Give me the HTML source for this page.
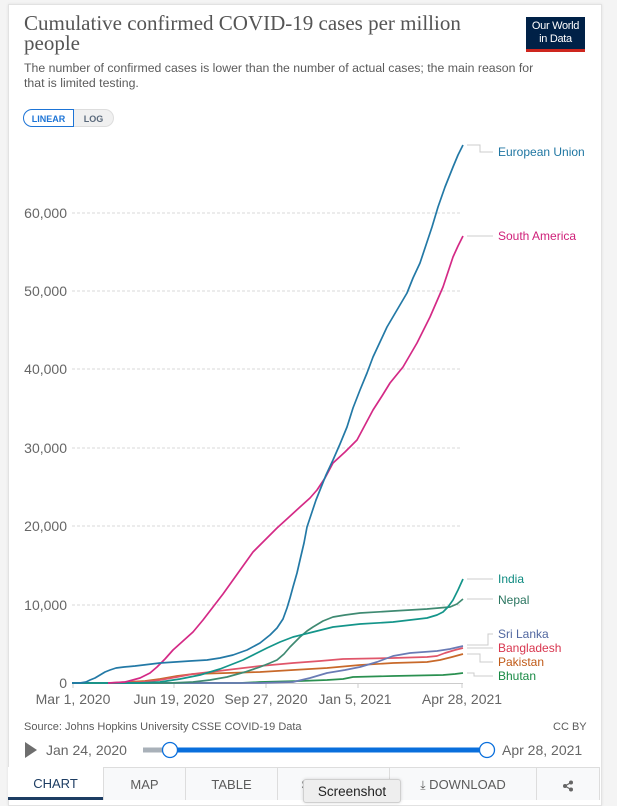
<!DOCTYPE html>
<html><head><meta charset="utf-8">
<style>
html,body{margin:0;padding:0;}
body{width:617px;height:800px;background:#f4f4f4;position:relative;overflow:hidden;font-family:"Liberation Sans",sans-serif;}
.card{position:absolute;left:8px;top:4px;width:592px;height:800px;background:#fff;border:1px solid #e2e2e2;box-shadow:0 0 3px rgba(0,0,0,0.08);}
.abs{position:absolute;white-space:nowrap;}
.title{left:24px;top:13px;font-family:"Liberation Serif",serif;font-size:21px;line-height:20px;color:#555;letter-spacing:0px;}
.sub{left:24px;top:61px;font-size:12.3px;line-height:15px;color:#5b5b5b;}
.logo{left:526px;top:17px;width:59px;height:35px;background:#002147;border-bottom:3px solid #ce261e;box-sizing:border-box;color:#fff;font-size:11px;line-height:13px;text-align:center;padding-top:3px;letter-spacing:-0.3px;}
.tog{top:109px;height:18px;font-size:9px;font-weight:bold;line-height:18px;}
.lin{left:23px;width:51px;border:1px solid #1d74d6;border-radius:9px 0 0 9px;color:#1d74d6;text-align:center;background:#fff;box-sizing:border-box;}
.log{left:74px;width:40px;border:1px solid #ddd;border-left:none;border-radius:0 9px 9px 0;color:#5b6a7c;text-align:center;background:#f0f0f0;box-sizing:border-box;}
.src{left:24px;top:721px;font-size:11px;color:#5b5b5b;}
.cc{left:553px;top:721px;font-size:11px;color:#5b5b5b;}
.date{font-size:14px;color:#666;top:742px;}
.tabs{left:8px;top:767px;width:592px;height:33px;}
.tab{position:absolute;top:0;height:33px;background:#f8f9fa;border-left:1px solid #ddd;border-top:1px solid #ddd;box-sizing:border-box;font-size:13px;color:#5b5b5b;text-align:center;line-height:33px;}
.tip{left:303px;top:779px;width:98px;height:24px;background:#eeeeee;border:1px solid #cfcfcf;border-radius:3px;box-sizing:border-box;font-size:13.5px;color:#222;text-align:center;line-height:24px;box-shadow:0 0 3px rgba(0,0,0,0.15);}
</style></head>
<body>
<div class="card"></div>
<div class="abs title">Cumulative confirmed COVID-19 cases per million<br>people</div>
<div class="abs sub">The number of confirmed cases is lower than the number of actual cases; the main reason for<br>that is limited testing.</div>
<div class="abs logo">Our World<br>in Data</div>
<div class="abs tog lin">LINEAR</div>
<div class="abs tog log">LOG</div>

<svg class="abs" style="left:0;top:0" width="617" height="800" xmlns="http://www.w3.org/2000/svg">
 <g stroke="#dadada" stroke-width="1" stroke-dasharray="3,2">
  <line x1="72" y1="213" x2="462" y2="213"/>
  <line x1="72" y1="291" x2="462" y2="291"/>
  <line x1="72" y1="369" x2="462" y2="369"/>
  <line x1="72" y1="448" x2="462" y2="448"/>
  <line x1="72" y1="526" x2="462" y2="526"/>
  <line x1="72" y1="605" x2="462" y2="605"/>
 </g>
 <line x1="72" y1="683.5" x2="463" y2="683.5" stroke="#ccc" stroke-width="1"/>
 <g stroke="#ccc" stroke-width="1">
  <line x1="73" y1="683" x2="73" y2="688"/>
  <line x1="174" y1="683" x2="174" y2="688"/>
  <line x1="266" y1="683" x2="266" y2="688"/>
  <line x1="358" y1="683" x2="358" y2="688"/>
  <line x1="462" y1="683" x2="462" y2="688"/>
 </g>
 <g font-family="Liberation Sans, sans-serif" font-size="14" fill="#666" text-anchor="end">
  <text x="67" y="218">60,000</text>
  <text x="67" y="296">50,000</text>
  <text x="67" y="374">40,000</text>
  <text x="67" y="453">30,000</text>
  <text x="67" y="531">20,000</text>
  <text x="67" y="610">10,000</text>
  <text x="67" y="688">0</text>
 </g>
 <g font-family="Liberation Sans, sans-serif" font-size="14" fill="#666" text-anchor="middle">
  <text x="73" y="704">Mar 1, 2020</text>
  <text x="174" y="704">Jun 19, 2020</text>
  <text x="266" y="704">Sep 27, 2020</text>
  <text x="355" y="704">Jan 5, 2021</text>
  <text x="462" y="704">Apr 28, 2021</text>
 </g>
 <g fill="none" stroke-width="1.7" stroke-linejoin="round">
  <polyline stroke="#2a9050" points="72,683 240,683 260,682 300,681 327,680 343,679 353,677 393,676 443,675 455,674 463,673"/>
  <polyline stroke="#c8692a" points="72,683 110,683 127,682 145,681 160,679 177,676 193,674 227,673 260,672 293,670 327,668 360,665 393,663 427,662 440,660 452,657 463,654"/>
  <polyline stroke="#e0566a" points="72,683 120,683 143,682 160,680 177,677 193,674 210,672 235,669 260,666 293,663 320,661 343,659 393,658 427,657 437,656 445,653 455,650 463,648"/>
  <polyline stroke="#6a7bb5" points="72,683 260,683 293,682 310,678 327,673 345,670 360,667 377,662 393,656 410,653 437,651 450,649 463,646"/>
  <polyline stroke="#3f8a72" points="72,683 170,683 193,682 210,680 227,677 245,672 260,667 270,663 277,660 284,654 290,647 295,642 300,637 307,631 313,627 323,621 333,617 345,615 360,613 393,611 427,609 450,607 457,604 463,599"/>
  <polyline stroke="#14958a" points="72,683 140,683 160,682 180,679 200,675 220,669 243,660 255,654 267,648 280,642 293,637 313,632 333,627 360,624 393,622 410,620 427,618 437,615 443,612 448,607 453,600 458,590 463,579"/>
  <polyline stroke="#d42a86" points="108,683 125,682 140,678 150,673 157,667 165,659 173,650 183,641 193,632 203,620 213,607 223,594 233,580 243,566 253,552 265,540 277,528 288,518 300,507 310,498 317,490 325,478 333,463 345,452 357,440 365,425 373,410 382,396 390,383 403,367 417,343 430,317 443,287 453,257 458,246 463,236"/>
  <polyline stroke="#2379a6" points="72,683 80,683 86,682 90,680 95,678 100,675 105,672 110,670 116,668 124,667 135,666 160,663 190,661 207,660 220,658 233,655 247,650 260,643 270,635 277,628 283,619 287,608 290,598 293,587 297,573 300,560 304,543 307,527 312,512 316,500 320,490 326,475 333,460 340,444 347,427 353,408 360,390 367,373 373,357 380,342 387,327 397,310 407,293 413,278 420,263 426,245 432,227 438,207 445,187 453,167 458,155 463,145"/>
 </g>
 <g fill="none" stroke="#ccc" stroke-width="1">
  <polyline points="467,145 480,145 480,152 493,152"/>
  <polyline points="467,236 493,236"/>
  <polyline points="467,579 493,579"/>
  <polyline points="467,599 493,599"/>
  <polyline points="467,645 488,645 488,634 493,634"/>
  <polyline points="467,648 493,648"/>
  <polyline points="467,654 480,654 480,662 493,662"/>
  <polyline points="467,673 474,673 474,676 493,676"/>
 </g>
 <g font-family="Liberation Sans, sans-serif" font-size="12">
  <text x="498" y="156" fill="#1f76a2">European Union</text>
  <text x="498" y="240" fill="#cf2079">South America</text>
  <text x="498" y="583" fill="#0e8a80">India</text>
  <text x="498" y="604" fill="#2a7560">Nepal</text>
  <text x="498" y="638" fill="#5167a0">Sri Lanka</text>
  <text x="498" y="652" fill="#d8364f">Bangladesh</text>
  <text x="498" y="666" fill="#c05a18">Pakistan</text>
  <text x="498" y="680" fill="#198a45">Bhutan</text>
 </g>
 <polygon points="25,742 25,758 37,750" fill="#6e6e6e"/>
 <line x1="143" y1="750" x2="170" y2="750" stroke="#a9b1b9" stroke-width="5"/>
 <line x1="170" y1="750" x2="487" y2="750" stroke="#0a6fdc" stroke-width="5"/>
 <circle cx="170" cy="750" r="7.5" fill="#fff" stroke="#0a6fdc" stroke-width="1.3"/>
 <circle cx="487" cy="750" r="7.5" fill="#fff" stroke="#0a6fdc" stroke-width="1.3"/>
</svg>

<div class="abs src">Source: Johns Hopkins University CSSE COVID-19 Data</div>
<div class="abs cc">CC BY</div>
<div class="abs date" style="left:46px;">Jan 24, 2020</div>
<div class="abs date" style="left:502px;">Apr 28, 2021</div>

<div class="abs tabs">
 <div class="tab" style="left:0;width:95px;background:#fff;border-left:none;border-top:1px solid #fff;color:#1d3d63;border-bottom:3px solid #1d3d63;line-height:31px;">CHART</div>
 <div class="tab" style="left:95px;width:82px;">MAP</div>
 <div class="tab" style="left:177px;width:92px;">TABLE</div>
 <div class="tab" style="left:269px;width:112px;">SOURCES</div>
 <div class="tab" style="left:381px;width:147px;"><span style="font-size:12px">&#10515;</span> DOWNLOAD</div>
 <div class="tab" style="left:528px;width:64px;border-right:1px solid #ddd;">
  <svg width="12" height="12" viewBox="0 0 12 12" style="vertical-align:middle"><circle cx="9" cy="2.5" r="2" fill="#666"/><circle cx="3" cy="6" r="2" fill="#666"/><circle cx="9" cy="9.5" r="2" fill="#666"/><polyline points="9,2.5 3,6 9,9.5" fill="none" stroke="#666" stroke-width="1.2"/></svg>
 </div>
</div>
<div class="abs tip">Screenshot</div>
</body></html>
